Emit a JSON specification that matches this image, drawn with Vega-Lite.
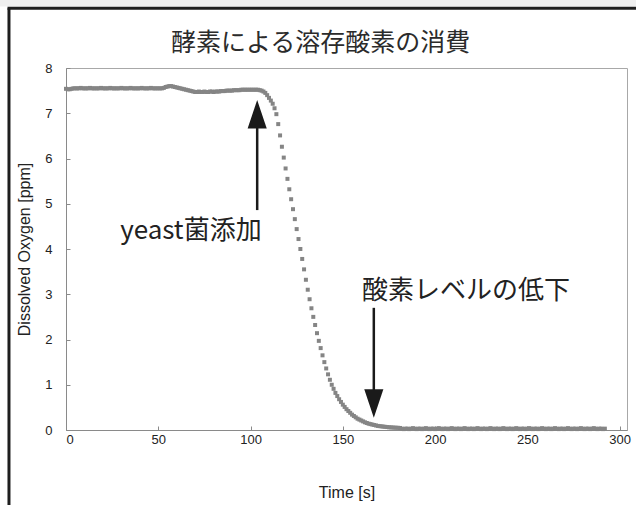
{
  "$schema": "https://vega.github.io/schema/vega-lite/v6.json",
  "autosize": {"type": "none"},
  "padding": {"left": 66, "top": 68, "right": 9, "bottom": 75},
  "width": 561,
  "height": 362,
  "background": "white",
  "title": {
    "text": "酵素による溶存酸素の消費",
    "font": "Noto Sans CJK JP",
    "fontSize": 25,
    "fontWeight": "normal",
    "color": "#2b2b2b",
    "anchor": "middle",
    "frame": "group",
    "dx": -26,
    "offset": -60
  },
  "config": {
    "view": {"stroke": "#a8a8a8", "strokeWidth": 1},
    "axis": {
      "grid": false,
      "labelFont": "Liberation Sans",
      "labelFontSize": 13,
      "labelColor": "#222222",
      "titleFont": "Liberation Sans",
      "titleFontSize": 16,
      "titleFontWeight": "normal",
      "titleColor": "#222222",
      "domainColor": "#8a8a8a",
      "tickColor": "#8a8a8a",
      "tickSize": -4
    }
  },
  "datasets": {
    "oxygen": [
      {"t":0,"v":7.54},{"t":1,"v":7.53},{"t":2,"v":7.53},{"t":3,"v":7.54},{"t":4,"v":7.55},{"t":5,"v":7.55},{"t":6,"v":7.55},{"t":7,"v":7.55},{"t":8,"v":7.56},{"t":9,"v":7.55},
      {"t":10,"v":7.55},{"t":11,"v":7.55},{"t":12,"v":7.55},{"t":13,"v":7.56},{"t":14,"v":7.55},{"t":15,"v":7.55},{"t":16,"v":7.55},{"t":17,"v":7.55},{"t":18,"v":7.55},{"t":19,"v":7.56},
      {"t":20,"v":7.55},{"t":21,"v":7.55},{"t":22,"v":7.55},{"t":23,"v":7.55},{"t":24,"v":7.56},{"t":25,"v":7.55},{"t":26,"v":7.55},{"t":27,"v":7.55},{"t":28,"v":7.55},{"t":29,"v":7.55},
      {"t":30,"v":7.56},{"t":31,"v":7.55},{"t":32,"v":7.55},{"t":33,"v":7.55},{"t":34,"v":7.55},{"t":35,"v":7.56},{"t":36,"v":7.55},{"t":37,"v":7.55},{"t":38,"v":7.55},{"t":39,"v":7.55},
      {"t":40,"v":7.55},{"t":41,"v":7.56},{"t":42,"v":7.55},{"t":43,"v":7.55},{"t":44,"v":7.55},{"t":45,"v":7.55},{"t":46,"v":7.56},{"t":47,"v":7.55},{"t":48,"v":7.55},{"t":49,"v":7.55},
      {"t":50,"v":7.55},{"t":51,"v":7.55},{"t":52,"v":7.55},{"t":53,"v":7.56},{"t":54,"v":7.58},{"t":55,"v":7.59},{"t":56,"v":7.6},{"t":57,"v":7.6},{"t":58,"v":7.59},{"t":59,"v":7.58},
      {"t":60,"v":7.57},{"t":61,"v":7.56},{"t":62,"v":7.55},{"t":63,"v":7.54},{"t":64,"v":7.53},{"t":65,"v":7.52},{"t":66,"v":7.51},{"t":67,"v":7.5},{"t":68,"v":7.49},{"t":69,"v":7.48},
      {"t":70,"v":7.47},{"t":71,"v":7.47},{"t":72,"v":7.48},{"t":73,"v":7.47},{"t":74,"v":7.47},{"t":75,"v":7.48},{"t":76,"v":7.47},{"t":77,"v":7.47},{"t":78,"v":7.48},{"t":79,"v":7.48},
      {"t":80,"v":7.47},{"t":81,"v":7.48},{"t":82,"v":7.48},{"t":83,"v":7.48},{"t":84,"v":7.49},{"t":85,"v":7.49},{"t":86,"v":7.49},{"t":87,"v":7.5},{"t":88,"v":7.5},{"t":89,"v":7.5},
      {"t":90,"v":7.5},{"t":91,"v":7.51},{"t":92,"v":7.51},{"t":93,"v":7.51},{"t":94,"v":7.51},{"t":95,"v":7.52},{"t":96,"v":7.52},{"t":97,"v":7.52},{"t":98,"v":7.52},{"t":99,"v":7.52},
      {"t":100,"v":7.52},{"t":101,"v":7.52},{"t":102,"v":7.52},{"t":103,"v":7.52},{"t":104,"v":7.52},{"t":105,"v":7.51},{"t":106,"v":7.5},{"t":107,"v":7.48},{"t":108,"v":7.45},{"t":109,"v":7.4},
      {"t":110,"v":7.34},{"t":111,"v":7.28},{"t":112,"v":7.21},{"t":113,"v":7.11},{"t":114,"v":6.98},{"t":115,"v":6.76},{"t":116,"v":6.51},{"t":117,"v":6.26},{"t":118,"v":6.02},{"t":119,"v":5.78},
      {"t":120,"v":5.55},{"t":121,"v":5.32},{"t":122,"v":5.1},{"t":123,"v":4.88},{"t":124,"v":4.66},{"t":125,"v":4.44},{"t":126,"v":4.22},{"t":127,"v":4.0},{"t":128,"v":3.78},{"t":129,"v":3.55},
      {"t":130,"v":3.32},{"t":131,"v":3.1},{"t":132,"v":2.89},{"t":133,"v":2.69},{"t":134,"v":2.5},{"t":135,"v":2.32},{"t":136,"v":2.14},{"t":137,"v":1.97},{"t":138,"v":1.81},{"t":139,"v":1.65},
      {"t":140,"v":1.5},{"t":141,"v":1.36},{"t":142,"v":1.23},{"t":143,"v":1.11},{"t":144,"v":1.0},{"t":145,"v":0.91},{"t":146,"v":0.82},{"t":147,"v":0.75},{"t":148,"v":0.68},{"t":149,"v":0.62},
      {"t":150,"v":0.56},{"t":151,"v":0.51},{"t":152,"v":0.46},{"t":153,"v":0.42},{"t":154,"v":0.38},{"t":155,"v":0.34},{"t":156,"v":0.31},{"t":157,"v":0.28},{"t":158,"v":0.25},{"t":159,"v":0.23},
      {"t":160,"v":0.21},{"t":161,"v":0.19},{"t":162,"v":0.17},{"t":163,"v":0.155},{"t":164,"v":0.14},{"t":165,"v":0.13},{"t":166,"v":0.12},{"t":167,"v":0.11},{"t":168,"v":0.1},{"t":169,"v":0.09},
      {"t":170,"v":0.085},{"t":171,"v":0.08},{"t":172,"v":0.075},{"t":173,"v":0.07},{"t":174,"v":0.065},{"t":175,"v":0.06},{"t":176,"v":0.058},{"t":177,"v":0.055},{"t":178,"v":0.052},{"t":179,"v":0.05},
      {"t":180,"v":0.048},{"t":181,"v":0.045},{"t":182,"v":0.03},{"t":183,"v":0.02},{"t":184,"v":0.03},{"t":185,"v":0.03},{"t":186,"v":0.02},{"t":187,"v":0.03},{"t":188,"v":0.04},{"t":189,"v":0.03},
      {"t":190,"v":0.02},{"t":191,"v":0.03},{"t":192,"v":0.03},{"t":193,"v":0.02},{"t":194,"v":0.03},{"t":195,"v":0.04},{"t":196,"v":0.03},{"t":197,"v":0.02},{"t":198,"v":0.03},{"t":199,"v":0.03},
      {"t":200,"v":0.02},{"t":201,"v":0.03},{"t":202,"v":0.04},{"t":203,"v":0.03},{"t":204,"v":0.02},{"t":205,"v":0.03},{"t":206,"v":0.03},{"t":207,"v":0.02},{"t":208,"v":0.03},{"t":209,"v":0.04},
      {"t":210,"v":0.03},{"t":211,"v":0.02},{"t":212,"v":0.03},{"t":213,"v":0.03},{"t":214,"v":0.02},{"t":215,"v":0.03},{"t":216,"v":0.04},{"t":217,"v":0.03},{"t":218,"v":0.02},{"t":219,"v":0.03},
      {"t":220,"v":0.03},{"t":221,"v":0.02},{"t":222,"v":0.03},{"t":223,"v":0.04},{"t":224,"v":0.03},{"t":225,"v":0.02},{"t":226,"v":0.03},{"t":227,"v":0.03},{"t":228,"v":0.02},{"t":229,"v":0.03},
      {"t":230,"v":0.04},{"t":231,"v":0.03},{"t":232,"v":0.02},{"t":233,"v":0.03},{"t":234,"v":0.03},{"t":235,"v":0.02},{"t":236,"v":0.03},{"t":237,"v":0.04},{"t":238,"v":0.03},{"t":239,"v":0.02},
      {"t":240,"v":0.03},{"t":241,"v":0.03},{"t":242,"v":0.02},{"t":243,"v":0.03},{"t":244,"v":0.04},{"t":245,"v":0.03},{"t":246,"v":0.02},{"t":247,"v":0.03},{"t":248,"v":0.03},{"t":249,"v":0.02},
      {"t":250,"v":0.03},{"t":251,"v":0.04},{"t":252,"v":0.03},{"t":253,"v":0.02},{"t":254,"v":0.03},{"t":255,"v":0.03},{"t":256,"v":0.02},{"t":257,"v":0.03},{"t":258,"v":0.04},{"t":259,"v":0.03},
      {"t":260,"v":0.02},{"t":261,"v":0.03},{"t":262,"v":0.03},{"t":263,"v":0.02},{"t":264,"v":0.03},{"t":265,"v":0.04},{"t":266,"v":0.03},{"t":267,"v":0.02},{"t":268,"v":0.03},{"t":269,"v":0.03},
      {"t":270,"v":0.02},{"t":271,"v":0.03},{"t":272,"v":0.04},{"t":273,"v":0.03},{"t":274,"v":0.02},{"t":275,"v":0.03},{"t":276,"v":0.03},{"t":277,"v":0.02},{"t":278,"v":0.03},{"t":279,"v":0.04},
      {"t":280,"v":0.03},{"t":281,"v":0.02},{"t":282,"v":0.03},{"t":283,"v":0.03},{"t":284,"v":0.02},{"t":285,"v":0.03},{"t":286,"v":0.04},{"t":287,"v":0.03},{"t":288,"v":0.02},{"t":289,"v":0.03},
      {"t":290,"v":0.03},{"t":291,"v":0.02},{"t":292,"v":0.03}
    ],
    "arrows": [
      {"t":103.6,"v":4.86,"v2":6.8,"dir":"up","vh":6.98},
      {"t":166.8,"v":2.7,"v2":0.8,"dir":"down","vh":0.586}
    ],
    "notes": [
      {"t":67.7,"v":4.4,"label":"yeast菌添加"},
      {"t":216.8,"v":3.07,"label":"酸素レベルの低下"}
    ],
    "band": [
      {"x":-40,"x2":320,"y":9.36,"y2":9.6}
    ],
    "frame": [
      {"x":-30.9,"x2":-30.9,"y":9.32,"y2":-1.9},
      {"x":-31.7,"x2":312,"y":9.32,"y2":9.32}
    ]
  },
  "layer": [
    {
      "data": {"name": "oxygen"},
      "mark": {"type": "point", "shape": "square", "filled": true, "size": 16, "color": "#858585", "opacity": 1},
      "encoding": {
        "x": {"field": "t", "type": "quantitative", "title": "Time [s]",
          "scale": {"domain": [0, 304], "nice": false, "zero": false},
          "axis": {"values": [0, 50, 100, 150, 200, 250, 300], "labelPadding": 7, "titlePadding": 38}},
        "y": {"field": "v", "type": "quantitative", "title": "Dissolved Oxygen [ppm]",
          "scale": {"domain": [0, 8], "nice": false},
          "axis": {"values": [0, 1, 2, 3, 4, 5, 6, 7, 8], "labelPadding": 18, "titlePadding": 12}}
      }
    },
    {
      "data": {"name": "arrows"},
      "mark": {"type": "rule", "color": "#1a1a1a", "strokeWidth": 2.5},
      "encoding": {
        "x": {"field": "t", "type": "quantitative"},
        "y": {"field": "v", "type": "quantitative"},
        "y2": {"field": "v2"}
      }
    },
    {
      "data": {"name": "arrows"},
      "mark": {"type": "point", "filled": true, "color": "#1a1a1a", "opacity": 1, "size": 812, "strokeWidth": 0},
      "encoding": {
        "x": {"field": "t", "type": "quantitative"},
        "y": {"field": "vh", "type": "quantitative"},
        "shape": {"field": "dir", "type": "nominal", "legend": null,
          "scale": {"domain": ["up", "down"], "range": ["M0,-1L0.67,1L-0.67,1Z", "M0,1L0.67,-1L-0.67,-1Z"]}}
      }
    },
    {
      "data": {"name": "notes"},
      "mark": {"type": "text", "font": "Noto Sans CJK JP", "fontSize": 26, "color": "#222222", "align": "center", "baseline": "middle"},
      "encoding": {
        "x": {"field": "t", "type": "quantitative"},
        "y": {"field": "v", "type": "quantitative"},
        "text": {"field": "label"}
      }
    },
    {
      "data": {"name": "band"},
      "mark": {"type": "rect", "color": "#efefef", "opacity": 1, "clip": false},
      "encoding": {
        "x": {"field": "x", "type": "quantitative"},
        "x2": {"field": "x2"},
        "y": {"field": "y", "type": "quantitative"},
        "y2": {"field": "y2"}
      }
    },
    {
      "data": {"name": "frame"},
      "mark": {"type": "rule", "color": "#1e1e1e", "strokeWidth": 3, "clip": false},
      "encoding": {
        "x": {"field": "x", "type": "quantitative"},
        "x2": {"field": "x2"},
        "y": {"field": "y", "type": "quantitative"},
        "y2": {"field": "y2"}
      }
    }
  ]
}
